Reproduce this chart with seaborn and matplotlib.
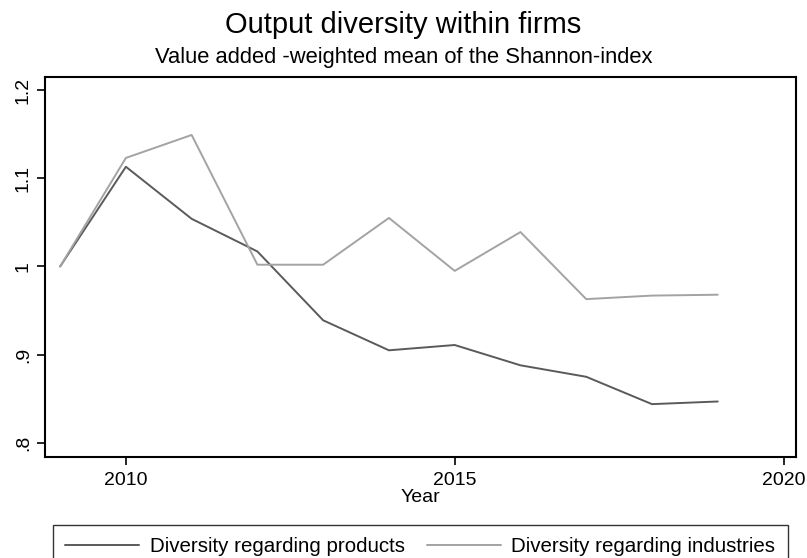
import pandas as pd
import seaborn as sns
import matplotlib

matplotlib.use("Agg")
import matplotlib.pyplot as plt

# data
years = [2009, 2010, 2011, 2012, 2013, 2014, 2015, 2016, 2017, 2018, 2019]
products = [1.000, 1.113, 1.054, 1.017, 0.939, 0.905, 0.911, 0.888, 0.875, 0.844, 0.847]
industries = [1.000, 1.123, 1.149, 1.002, 1.002, 1.055, 0.995, 1.039, 0.963, 0.967, 0.968]
series_names = ["Diversity regarding products", "Diversity regarding industries"]
series_colors = ["#5a5a5a", "#a3a3a3"]
y_ticks = [0.8, 0.9, 1.0, 1.1, 1.2]
y_labels = [".8", ".9", "1", "1.1", "1.2"]
x_ticks = [2010, 2015, 2020]

df = pd.DataFrame({
    "Year": years * 2,
    "value": products + industries,
    "series": [series_names[0]] * len(years) + [series_names[1]] * len(years),
})

sns.set_theme(style="ticks")
plt.rcParams["font.family"] = ["Liberation Sans", "DejaVu Sans"]
plt.rcParams.update({
    "xtick.bottom": True, "ytick.left": True,
    "xtick.major.size": 6, "ytick.major.size": 6,
    "xtick.major.width": 1.2, "ytick.major.width": 1.2,
    "xtick.color": "black", "ytick.color": "black",
})

fig = plt.figure(figsize=(8.07, 5.58), dpi=100)
ax = fig.add_axes([45 / 807, 1 - 457 / 558, 751 / 807, 380 / 558])

sns.lineplot(data=df, x="Year", y="value", hue="series",
             palette=dict(zip(series_names, series_colors)),
             linewidth=1.4, ax=ax, legend=False)

ax.set_xlim(2008.77, 2020.19)
ax.set_ylim(0.7841, 1.2147)
ax.set_xticks(x_ticks)
ax.set_yticks(y_ticks)
ax.set_yticklabels(y_labels, rotation=90, va="center")
ax.xaxis.set_ticks_position("bottom")
ax.yaxis.set_ticks_position("left")
ax.tick_params(axis="both", which="major", direction="out", length=6,
               width=1.2, labelsize=14, color="black", labelcolor="black")
ax.tick_params(axis="x", pad=4.5)
ax.tick_params(axis="y", pad=3.5)
ax.set_xlabel("Year", fontsize=14, labelpad=0, color="black")
ax.set_ylabel("")
for s in ax.spines.values():
    s.set_visible(True)
    s.set_color("black")
    s.set_linewidth(1.5)

fig.text(0.5, 1 - 33 / 558, "Output diversity within firms",
         ha="center", va="baseline", fontsize=21, color="black")
fig.text(0.5, 1 - 63 / 558, "Value added -weighted mean of the Shannon-index",
         ha="center", va="baseline", fontsize=15.8, color="black")

handles = [plt.Line2D([], [], color=c, linewidth=1.4) for c in series_colors]
leg = fig.legend(handles, series_names, loc="upper left", ncol=2,
                 bbox_to_anchor=(53 / 807, 1 - 525 / 558),
                 borderaxespad=0, fontsize=14.8,
                 frameon=True, fancybox=False, edgecolor="black",
                 borderpad=0.6, handlelength=3.6, handletextpad=0.5,
                 columnspacing=1.1)
leg.get_frame().set_linewidth(1.0)
for t in leg.get_texts():
    t.set_color("black")

fig.savefig("out.png", dpi=100, facecolor="white")
plt.close(fig)
